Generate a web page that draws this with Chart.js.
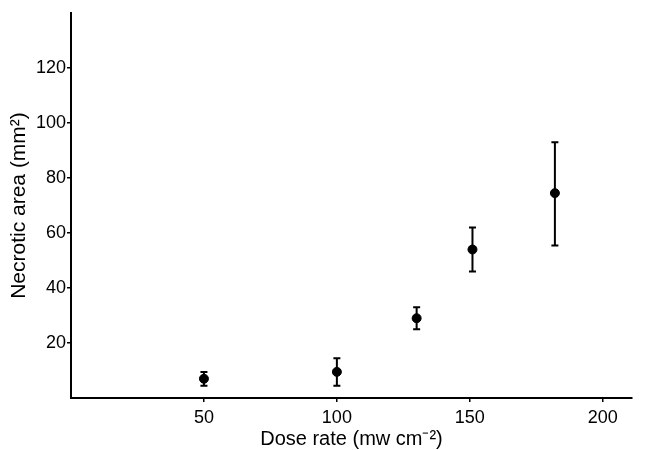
<!DOCTYPE html>
<html lang="en">
<head>
  <meta charset="UTF-8" />
  <title>Necrotic area vs dose rate</title>
  <script src="https://cdn.jsdelivr.net/npm/chart.js"></script>
  <style>
    body { margin: 0; background: #fff; }
    #wrap { width: 648px; height: 450px; }
  </style>
</head>
<body>
  <div id="wrap"><canvas id="chart" width="648" height="450"></canvas></div>

  <script>
  // values
  const doseRates = [50, 100, 130, 151, 182];
  const necroticMeans = [7, 9.5, 29, 54, 74.5];
  const errorUp = [2.5, 5, 4, 8, 18.5];
  const errorDown = [2.5, 5, 4, 8, 19];
  const xTicks = [50, 100, 150, 200];
  const yTicks = [20, 40, 60, 80, 100, 120];

  const fontFamily = '"Liberation Sans", Arial, Helvetica, sans-serif';

  // vertical error bars with small caps
  const errorBars = {
    id: 'errorBars',
    afterDatasetsDraw(chart) {
      const { ctx, scales: { x, y } } = chart;
      ctx.save();
      ctx.strokeStyle = '#000';
      ctx.lineWidth = 2;
      doseRates.forEach((d, i) => {
        const px = x.getPixelForValue(d);
        const top = y.getPixelForValue(necroticMeans[i] + errorUp[i]);
        const bot = y.getPixelForValue(necroticMeans[i] - errorDown[i]);
        ctx.beginPath();
        ctx.moveTo(px, top);
        ctx.lineTo(px, bot);
        ctx.moveTo(px - 3.5, top);
        ctx.lineTo(px + 3.5, top);
        ctx.moveTo(px - 3.5, bot);
        ctx.lineTo(px + 3.5, bot);
        ctx.stroke();
      });
      ctx.restore();
    }
  };

  const ctx = document.getElementById('chart').getContext('2d');
  new Chart(ctx, {
    type: 'scatter',
    data: {
      datasets: [{
        data: doseRates.map((d, i) => ({ x: d, y: necroticMeans[i] })),
        backgroundColor: '#000',
        borderColor: '#000',
        pointRadius: 4.5,
        pointHoverRadius: 4.5
      }]
    },
    options: {
      responsive: false,
      animation: false,
      layout: { padding: { top: 13, right: 16, left: 0, bottom: 0 } },
      plugins: { legend: { display: false }, tooltip: { enabled: false } },
      scales: {
        x: {
          type: 'linear',
          min: 0,
          max: 211,
          afterBuildTicks: s => { s.ticks = xTicks.map(v => ({ value: v })); },
          afterFit: s => { s.height = 52; },
          border: { display: true, color: '#000', width: 2 },
          grid: { display: true, drawOnChartArea: false, drawTicks: true, tickLength: 4, color: '#000', lineWidth: 1.5 },
          ticks: { color: '#000', padding: 5, maxRotation: 0, font: { family: fontFamily, size: 18 } },
          title: {
            display: true,
            text: 'Dose rate (mw cm\u207B\u00B2)',
            color: '#000',
            padding: { top: 0, bottom: -1 },
            font: { family: fontFamily, size: 20 }
          }
        },
        y: {
          type: 'linear',
          min: 0,
          max: 140,
          afterBuildTicks: s => { s.ticks = yTicks.map(v => ({ value: v })); },
          afterFit: s => { s.width = 71; },
          border: { display: true, color: '#000', width: 2 },
          grid: { display: true, drawOnChartArea: false, drawTicks: true, tickLength: 4, color: '#000', lineWidth: 1.5 },
          ticks: { color: '#000', padding: 1, font: { family: fontFamily, size: 18 } },
          title: {
            display: true,
            text: 'Necrotic area (mm\u00B2)',
            color: '#000',
            padding: { top: 7, bottom: 0 },
            font: { family: fontFamily, size: 21 }
          }
        }
      }
    },
    plugins: [errorBars]
  });
  </script>
</body>
</html>
